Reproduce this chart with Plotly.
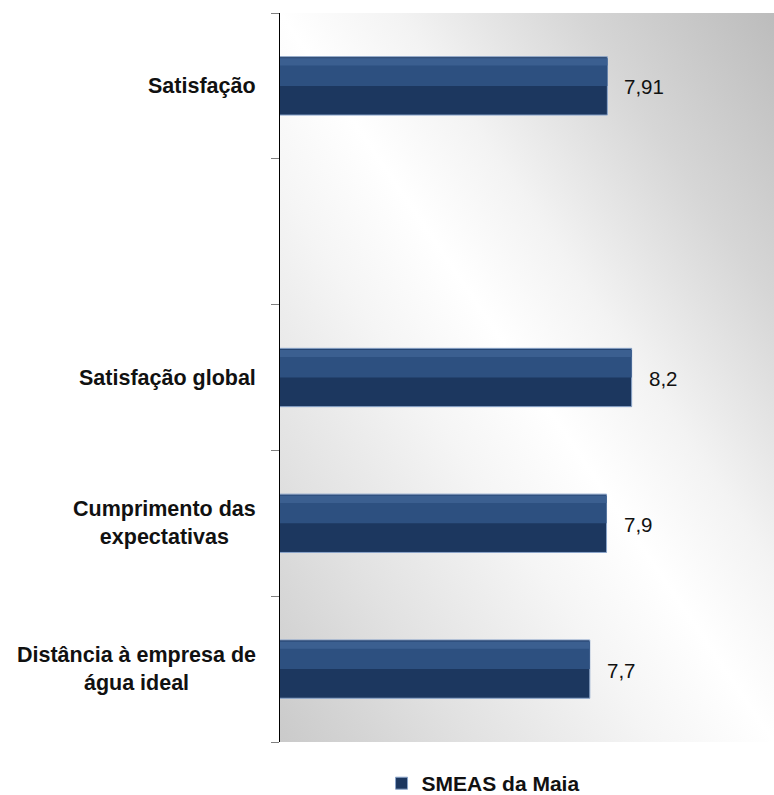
import base64
import plotly.graph_objects as go

categories = ["Distância à empresa de<br>água ideal",
              "Cumprimento das<br>expectativas",
              "Satisfação global",
              " ",
              "Satisfação"]
values = [7.7, 7.9, 8.2, None, 7.91]
value_labels = ["7,7", "7,9", "8,2", "", "7,91"]
series_name = "SMEAS da Maia"

font_family = "Liberation Sans, Arial, sans-serif"

svg = """<svg xmlns='http://www.w3.org/2000/svg' width='500' height='730' viewBox='0 0 500 730' preserveAspectRatio='none'>
<defs><linearGradient id='g' x1='1' y1='0' x2='0' y2='1'>
<stop offset='0' stop-color='#bcbcbc'/>
<stop offset='0.2' stop-color='#d6d6d6'/>
<stop offset='0.38' stop-color='#f3f3f3'/>
<stop offset='0.5' stop-color='#ffffff'/>
<stop offset='0.62' stop-color='#f5f5f5'/>
<stop offset='0.8' stop-color='#e2e2e2'/>
<stop offset='1' stop-color='#cacaca'/>
</linearGradient></defs>
<rect width='500' height='730' fill='url(#g)'/></svg>"""
bg_uri = "data:image/svg+xml;base64," + base64.b64encode(svg.encode()).decode()

fig = go.Figure()
# main (darker) bar face
fig.add_trace(go.Bar(
    y=categories, x=values, orientation="h", name="<b>" + series_name + "</b>",
    width=0.4, offset=-0.2,
    marker=dict(color="#1C375F", line=dict(color="#8BA5CA", width=1)),
    hoverinfo="skip",
))
# lighter upper half of the bevelled face
fig.add_trace(go.Bar(
    y=categories, x=values, orientation="h", showlegend=False,
    width=0.19, offset=0.0,
    marker=dict(color="#2D5080", line=dict(width=0)),
    hoverinfo="skip",
))
# light top bevel strip
fig.add_trace(go.Bar(
    y=categories, x=values, orientation="h", showlegend=False,
    width=0.05, offset=0.14,
    marker=dict(color="#3B5F90", line=dict(width=0)),
    hoverinfo="skip",
))

for cat, v, lab in zip(categories, values, value_labels):
    if v is None:
        continue
    fig.add_annotation(x=v, y=cat, xref="x", yref="y", text=lab,
                       showarrow=False, xanchor="left", xshift=15, yshift=-1,
                       font=dict(family=font_family, size=20.5, color="#111111"))

for cat in categories:
    if not cat.strip():
        continue
    fig.add_annotation(x=0, y=cat, xref="paper", yref="y", text="<b>" + cat + "</b>",
                       showarrow=False, xanchor="right", xshift=-22, align="center",
                       font=dict(family=font_family, size=21.5, color="#111111"))

fig.update_layout(
    width=774, height=795,
    margin=dict(l=280, r=0, t=13, b=53, autoexpand=False),
    paper_bgcolor="white", plot_bgcolor="rgba(0,0,0,0)",
    barmode="overlay",
    separators=", ",
    images=[dict(source=bg_uri, xref="paper", yref="paper", x=0, y=1,
                 sizex=1, sizey=1, sizing="stretch", layer="below")],
    xaxis=dict(range=[4, 9.9], visible=False),
    yaxis=dict(categoryorder="array", categoryarray=categories,
               showticklabels=False, tickson="boundaries", ticks="outside",
               ticklen=8, tickcolor="#7f7f7f", showline=True, linecolor="black",
               linewidth=1, showgrid=False, zeroline=False),
    showlegend=True,
    legend=dict(orientation="h", x=0.411, xanchor="center", y=-0.057, yanchor="middle",
                font=dict(family=font_family, size=21, color="#111111"),
                itemwidth=30, bgcolor="rgba(0,0,0,0)"),
)

fig.write_html("out.html", config={"displayModeBar": False},
               post_script="document.body.style.margin='0px';document.body.style.overflow='hidden';")
